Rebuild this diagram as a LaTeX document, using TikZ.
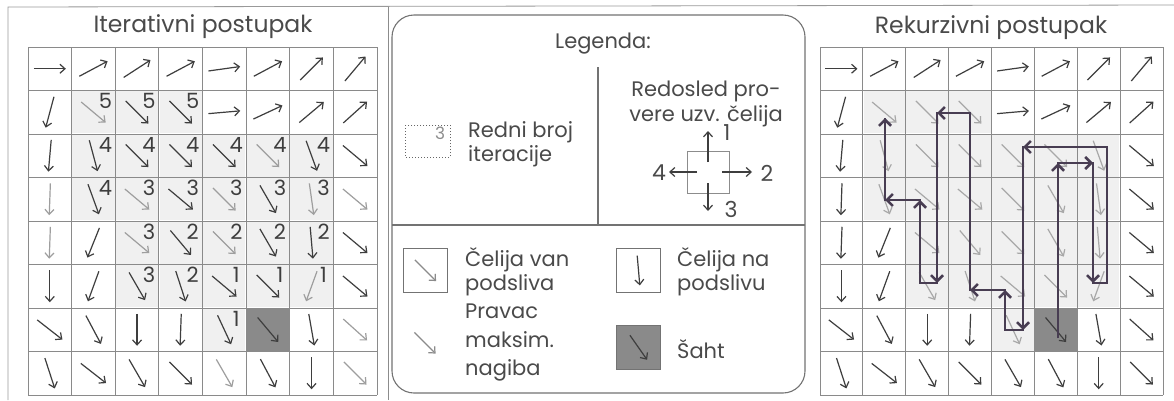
\documentclass[tikz,border=0pt]{standalone}
\usepackage{fontspec}
\setmainfont{Poppins}
\usetikzlibrary{arrows.meta}
\definecolor{ink}{HTML}{3E3E3E}
\definecolor{txt}{HTML}{4A4A4A}
\definecolor{pathc}{HTML}{483D52}
\definecolor{gridc}{HTML}{8A8A8A}
\definecolor{shahtc}{HTML}{8A8A8A}

\def\griddata{1/1/0/0/0, 1/2/-28/0/0, 1/3/-33/0/0, 1/4/-28/0/0, 1/5/-8/0/0, 1/6/-28/0/0, 1/7/-45/0/0, 1/8/-50/0/0,
2/1/105/0/0, 2/2/40/5/1, 2/3/45/5/0, 2/4/45/5/0, 2/5/-5/0/0, 2/6/-25/0/0, 2/7/-40/0/0, 2/8/-42/0/0,
3/1/95/0/0, 3/2/75/4/0, 3/3/45/4/0, 3/4/45/4/0, 3/5/45/4/0, 3/6/45/4/1, 3/7/70/4/0, 3/8/40/0/0,
4/1/92/0/1, 4/2/70/4/0, 4/3/40/3/1, 4/4/40/3/0, 4/5/45/3/1, 4/6/60/3/0, 4/7/82/3/1, 4/8/40/0/1,
5/1/92/0/1, 5/2/112/0/0, 5/3/40/3/1, 5/4/50/2/0, 5/5/45/2/1, 5/6/60/2/0, 5/7/85/2/0, 5/8/40/0/0,
6/1/90/0/0, 6/2/110/0/0, 6/3/60/3/0, 6/4/72/2/0, 6/5/40/1/0, 6/6/45/1/0, 6/7/110/1/1, 6/8/40/0/0,
7/1/38/0/0, 7/2/62/0/0, 7/3/90/0/0, 7/4/92/0/0, 7/5/65/1/0, 7/6/50/0/2, 7/7/80/0/0, 7/8/42/0/1,
8/1/72/0/0, 8/2/38/0/0, 8/3/60/0/0, 8/4/45/0/0, 8/5/60/0/1, 8/6/62/0/0, 8/7/90/0/0, 8/8/45/0/1}

% #1 left x, #2 cell width, #3 1 = iterative (numbers), 0 = recursive
\newcommand\drawgrid[3]{%
  \foreach \i in {0,...,8}{
    \draw[gridline] ({#1+\i*#2},47) -- ({#1+\i*#2},395);
    \draw[gridline] (#1,{47+\i*43.5}) -- ({#1+8*#2},{47+\i*43.5});
  }
  \foreach \r/\c/\a/\n/\g in \griddata{
    \pgfmathsetmacro\cx{#1+(\c-0.5)*#2}
    \pgfmathsetmacro\cy{47+(\r-0.5)*43.5}
    \pgfmathsetmacro\xa{#1+(\c-1)*#2+0.7}
    \pgfmathsetmacro\xb{#1+\c*#2-0.7}
    \pgfmathsetmacro\ya{47+(\r-1)*43.5+0.7}
    \pgfmathsetmacro\yb{47+\r*43.5-0.7}
    \ifnum\g=2
      \fill[shahtc] (\xa,\ya) rectangle (\xb,\yb);
    \else
      \ifnum\n>0
        \fill[black!6] (\xa,\ya) rectangle (\xb,\yb);
      \fi
    \fi
    \ifnum#3=1
      \ifnum\g=1 \def\acol{ink!50}\else\def\acol{ink}\fi
    \else
      \ifnum\n>0 \def\acol{ink!45}\else\def\acol{ink}\fi
    \fi
    \ifnum\g=2 \def\acol{ink}\fi
    \draw[cellarr,draw=\acol] ([shift={({\a+180}:16)}]\cx,\cy) -- ([shift={(\a:16)}]\cx,\cy);
    \ifnum#3=1
      \ifnum\n>0
        \node[num] (n-\r-\c) at ({\cx+12},{\cy-11}) {\n};
      \fi
    \fi
  }
}

\begin{document}
\begin{tikzpicture}[x=1pt,y=-1pt,
  gridline/.style={draw=gridc,line width=0.9pt},
  cellarr/.style={line width=1.2pt,-{Straight Barb[length=5pt,width=9pt,line width=1.2pt]}},
  num/.style={inner sep=0pt,text=ink,font=\fontsize{21}{21}\selectfont},
  title/.style={inner sep=0pt,text=txt,font=\fontsize{23.5}{26}\selectfont},
  legtitle/.style={inner sep=0pt,text=txt,font=\fontsize{21}{24}\selectfont},
  ltext/.style={inner sep=0pt,text=txt,font=\fontsize{21}{21}\selectfont},
  dlabel/.style={inner sep=0pt,text=txt,font=\fontsize{22}{22}\selectfont},
  frame/.style={draw=black!55,line width=1.1pt},
  legbox/.style={draw=black!55,line width=0.9pt,minimum width=44pt,minimum height=44pt,inner sep=0pt},
  pathline/.style={draw=pathc,line width=2.9pt,line join=miter},
  patharr/.style={draw=pathc,line width=2.9pt,-{Straight Barb[length=6pt,width=12pt,line width=2.6pt]}}
]
\useasboundingbox (0,0) rectangle (1174,400);
\fill[white] (0,0) rectangle (1174,400);

% outer lines
\draw[draw=black!40,line width=0.8pt] (8,400) -- (8,7) -- (1174,5);
\draw[draw=black!45,line width=0.8pt] (388,7) -- (388,400);

% titles
\node[title] (tl) at (203,27) {Iterativni postupak};
\node[title] (tr) at (991,28) {Rekurzivni postupak};

% grids
\drawgrid{28}{43.625}{1}
\drawgrid{820}{42.875}{0}

% recursive path
\coordinate (q0) at (1058,338);
\coordinate (q1) at (1058,163);
\coordinate (q2) at (1093,163);
\coordinate (q3) at (1093,283);
\coordinate (q4) at (1107,283);
\coordinate (q5) at (1107,147);
\coordinate (q6) at (1023,147);
\coordinate (q7) at (1023,330);
\coordinate (q8) at (1005,330);
\coordinate (q9) at (1005,290);
\coordinate (q10) at (970,290);
\coordinate (q11) at (970,113);
\coordinate (q12) at (937,113);
\coordinate (q13) at (937,283);
\coordinate (q14) at (920,283);
\coordinate (q15) at (920,200);
\coordinate (q16) at (885,200);
\coordinate (q17) at (885,118);
\draw[pathline] (q0) -- (q1) -- (q2) -- (q3) -- (q4) -- (q5) -- (q6) -- (q7) -- (q8) -- (q9)
  -- (q10) -- (q11) -- (q12) -- (q13) -- (q14) -- (q15) -- (q16) -- (q17);
\draw[patharr] (q0) -- (q1);
\draw[patharr] (q1) -- (q2);
\draw[patharr] (q2) -- (q3);
\draw[patharr] (q5) -- (q6);
\draw[patharr] (q6) -- (q7);
\draw[patharr] (q8) -- (q9);
\draw[patharr] (q9) -- (q10);
\draw[patharr] (q11) -- (q12);
\draw[patharr] (q12) -- (q13);
\draw[patharr] (q14) -- (q15);
\draw[patharr] (q15) -- (q16);
\draw[patharr] (q16) -- (q17);

% legend frame
\draw[frame,rounded corners=22pt] (392,15) rectangle (805,393);
\draw[frame] (598,67) -- (598,225);
\draw[frame] (392,225) -- (805,225);
\node[legtitle] (leg) at (603,44) {Legenda:};

% iteration number legend
\draw[draw=black!60,line width=1pt,dotted] (405,125) rectangle (450,157);
\node[inner sep=0pt,text=black!45,font=\fontsize{17}{17}\selectfont] (l3) at (440,133) {3};
\node[ltext,anchor=base west] (rb1) at (468,137) {Redni broj};
\node[ltext,anchor=base west] (rb2) at (468,161) {iteracije};

% order of checking
\node[ltext,anchor=base] (ro1) at (706,96) {Redosled pro-};
\node[ltext,anchor=base] (ro2) at (706,121) {vere uzv. čelija};
\node[draw=black!45,line width=0.9pt,minimum width=42pt,minimum height=42pt,inner sep=0pt] (dsq) at (708.5,172) {};
\coordinate (s1) at (708,162);
\coordinate (e1) at (708,131);
\coordinate (s2) at (722,172);
\coordinate (e2) at (752,172);
\coordinate (s3) at (708,183);
\coordinate (e3) at (708,211);
\coordinate (s4) at (697,172);
\coordinate (e4) at (669,172);
\draw[cellarr,draw=ink] (s1) -- (e1);
\draw[cellarr,draw=ink] (s2) -- (e2);
\draw[cellarr,draw=ink] (s3) -- (e3);
\draw[cellarr,draw=ink] (s4) -- (e4);
\node[dlabel] (d1) at (727,133) {1};
\node[dlabel] (d2) at (767,173) {2};
\node[dlabel] (d3) at (731,209) {3};
\node[dlabel] (d4) at (659,173) {4};

% cell legends
\node[legbox] (b1) at (425.5,270.5) {};
\draw[cellarr,draw=ink!60] ([shift={(225:15)}]b1.center) -- ([shift={(45:15)}]b1.center);
\node[ltext,anchor=base west] (c1) at (465,266) {Čelija van};
\node[ltext,anchor=base west] (c2) at (465,290) {podsliva};

\node[legbox] (b2) at (638.5,270.5) {};
\draw[cellarr,draw=ink] ([shift={(265:15)}]b2.center) -- ([shift={(85:15)}]b2.center);
\node[ltext,anchor=base west] (c3) at (677,266) {Čelija na};
\node[ltext,anchor=base west] (c4) at (677,290) {podslivu};

\coordinate (pa) at (425,343);
\draw[cellarr,draw=ink!60] ([shift={(225:15)}]pa) -- ([shift={(45:15)}]pa);
\node[ltext,anchor=base west] (p1) at (465,318) {Pravac};
\node[ltext,anchor=base west] (p2) at (465,347) {maksim.};
\node[ltext,anchor=base west] (p3) at (465,375) {nagiba};

\node[legbox,fill=shahtc] (b3) at (638.5,347.5) {};
\draw[cellarr,draw=ink] ([shift={(235:15)}]b3.center) -- ([shift={(55:15)}]b3.center);
\node[ltext,anchor=base west] (sh) at (677,358) {Šaht};
\end{tikzpicture}
\end{document}
